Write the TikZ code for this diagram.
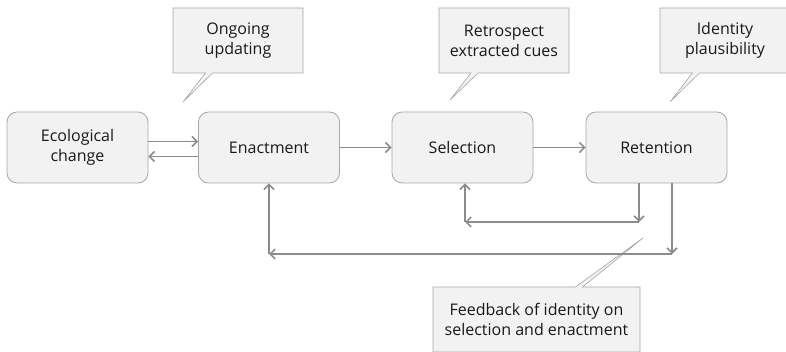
\documentclass[tikz,border=0pt]{standalone}
\usepackage{fontspec}
\setmainfont{Open Sans}
\usetikzlibrary{arrows.meta,shapes.callouts}
\begin{document}
\begin{tikzpicture}[x=1pt, y=-1pt, >={Straight Barb[length=5pt,width=10pt]},
        every node/.style={font=\fontsize{16}{20}\selectfont, align=center, text=black!90},
        stage/.style={draw=black!35, fill=black!5, rounded corners=10pt, minimum width=141pt, minimum height=71pt, line width=0.8pt},
        note/.style={rectangle callout, draw=black!35, fill=black!5, minimum width=130pt, minimum height=65pt, inner sep=0pt, line width=0.6pt},
        flow/.style={->, draw=black!45, line width=1.6pt}]
                \useasboundingbox (0,0) rectangle (786,352);

                % Nodes
                \node[stage] at (77.5, 147.5) (eco) {Ecological\\change};
                \node[stage] at (269, 147.5) (enact) {Enactment};
                \node[stage] at (462.5, 147.5) (sel) {Selection};
                \node[stage] at (656.5, 147.5) (ret) {Retention};

                % Callouts
                \node[note, callout absolute pointer={(183,102)}] at (238, 40.5) (upd) {Ongoing\\updating};
                \node[note, callout absolute pointer={(450,100)}] at (504, 40.5) (cues) {Retrospect\\extracted cues};
                \node[note, callout absolute pointer={(670,102)}] at (725, 40.5) (plaus) {Identity\\plausibility};
                \node[note, minimum width=207pt, callout absolute pointer={(643,238)}] at (536.5, 319.5) (feed) {Feedback of identity on\\selection and enactment};

                % Corners of the feedback loops
                \coordinate (c1) at (639, 222);
                \coordinate (c2) at (465, 222);
                \coordinate (c3) at (672, 254);
                \coordinate (c4) at (269, 254);

                % Edges
                \draw[flow] ([yshift=6pt]eco.east) -- ([yshift=6pt]enact.west);
                \draw[flow] ([yshift=-9pt]enact.west) -- ([yshift=-9pt]eco.east);
                \draw[flow] (enact) -- (sel);
                \draw[flow] (sel) -- (ret);

                \draw[flow] (ret.south -| c1) -- (c1);
                \draw[flow] (c1) -- (c2);
                \draw[flow] (c2) -- (sel.south -| c2);

                \draw[flow] (ret.south -| c3) -- (c3);
                \draw[flow] (c3) -- (c4);
                \draw[flow] (c4) -- (enact.south -| c4);
            \end{tikzpicture}
\end{document}
